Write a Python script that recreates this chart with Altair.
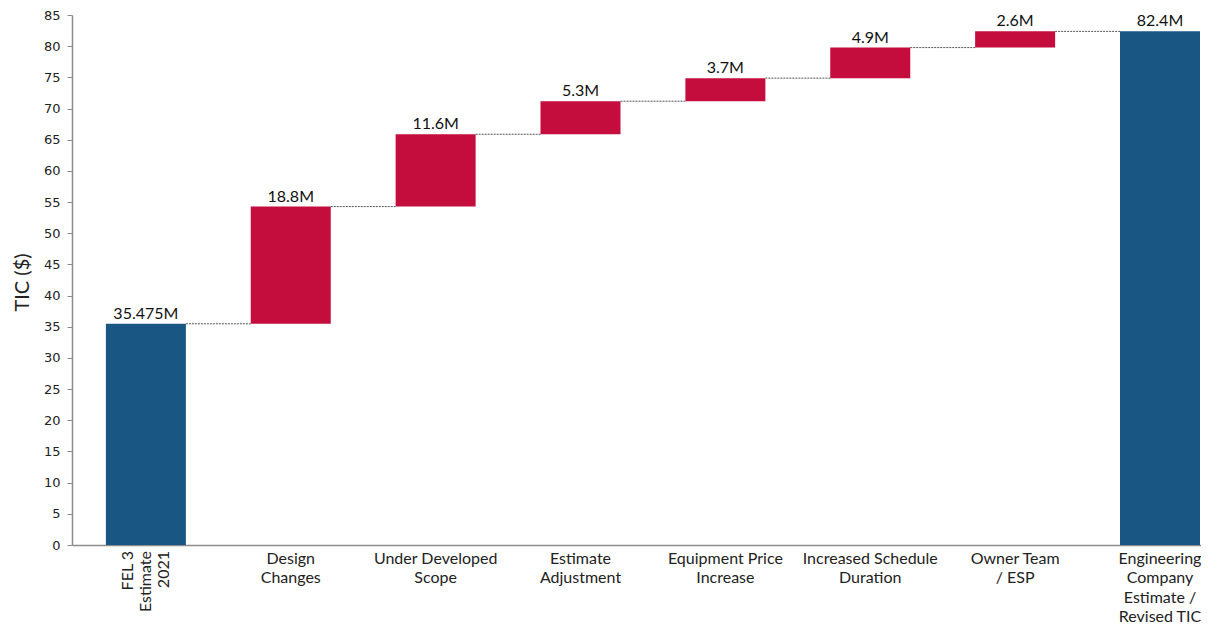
import altair as alt
import pandas as pd

categories = [
    "FEL 3\nEstimate\n2021",
    "Design\nChanges",
    "Under Developed\nScope",
    "Estimate\nAdjustment",
    "Equipment Price\nIncrease",
    "Increased Schedule\nDuration",
    "Owner Team\n/ ESP",
    "Engineering\nCompany\nEstimate /\nRevised TIC",
]
amounts = [35.475, 18.8, 11.6, 5.3, 3.7, 4.9, 2.6, 82.4]
value_labels = ["35.475M", "18.8M", "11.6M", "5.3M", "3.7M", "4.9M", "2.6M", "82.4M"]
kinds = ["total", "delta", "delta", "delta", "delta", "delta", "delta", "total"]
y_ticks = list(range(0, 90, 5))

BLUE = "#1A5683"
RED = "#C40D3C"

starts, ends = [], []
running = 0.0
for a, k in zip(amounts, kinds):
    if k == "total":
        starts.append(0.0)
        ends.append(a)
        running = a
    else:
        starts.append(running)
        running += a
        ends.append(running)

df = pd.DataFrame({
    "idx": list(range(len(categories))),
    "category": categories,
    "start": starts,
    "end": ends,
    "kind": kinds,
    "label": value_labels,
})

conn = pd.DataFrame({
    "idx": list(range(len(categories) - 1)),
    "next": list(range(1, len(categories))),
    "level": ends[:-1],
})

x_scale = alt.Scale(domain=[-0.51, 7.283], nice=False, zero=False, padding=0)
y_scale = alt.Scale(domain=[0, 85], nice=False)

x_axis = alt.Axis(labels=False, ticks=False, grid=False, domainColor="#8c8c8c",
                  domainWidth=1.5, title=None)
y_axis = alt.Axis(values=y_ticks, grid=False, tickSize=5,
                  tickColor="#8c8c8c", domainColor="#8c8c8c", domainWidth=1.5,
                  labelFont="DejaVu Sans", labelFontSize=13, labelColor="#222222",
                  labelPadding=7, labelOverlap=False, title="TIC ($)", titleFont="Lato",
                  titleFontSize=20, titleFontWeight="normal", titleColor="#222222",
                  titleX=-40, titleY=267)


def X(field="idx:Q"):
    return alt.X(field, scale=x_scale, axis=x_axis)


def Y(field):
    return alt.Y(field, scale=y_scale, axis=y_axis)


bars = alt.Chart(df).mark_bar(size=80).encode(
    x=X(),
    y=Y("start:Q"),
    y2="end:Q",
    color=alt.Color("kind:N", scale=alt.Scale(domain=["total", "delta"], range=[BLUE, RED]),
                    legend=None),
)

connectors = alt.Chart(conn).mark_rule(
    color="#555555", strokeDash=[2, 1], strokeWidth=1, xOffset=40, x2Offset=-40
).encode(
    x=X(),
    x2="next:Q",
    y=Y("level:Q"),
)

values = alt.Chart(df).mark_text(
    baseline="bottom", dy=-2, fontSize=16, font="Lato", color="#111111"
).encode(
    x=X(),
    y=Y("end:Q"),
    text="label:N",
)

cat_text = alt.Chart(df).transform_filter("datum.idx > 0").mark_text(
    baseline="top", align="center", lineBreak="\n", lineHeight=19.3,
    fontSize=16, font="Lato", color="#222222"
).encode(
    x=X(),
    y=alt.value(536),
    text="category:N",
)

first_text = alt.Chart(df).transform_filter("datum.idx == 0").mark_text(
    angle=270, baseline="middle", align="right", lineBreak="\n", lineHeight=18,
    fontSize=16, font="Lato", color="#222222", xOffset=-18
).encode(
    x=X(),
    y=alt.value(536),
    text="category:N",
)

chart = alt.layer(bars, connectors, values, cat_text, first_text).properties(
    width=1129,
    height=530,
    autosize=alt.AutoSizeParams(type="none"),
    padding={"left": 64, "top": 7, "right": 0, "bottom": 85},
).configure_view(stroke=None)

chart.save("out.html", embed_options={"renderer": "svg", "actions": False})
